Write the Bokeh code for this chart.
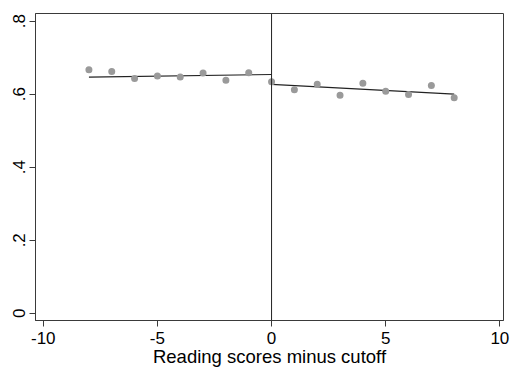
from bokeh.plotting import figure
from bokeh.models import FixedTicker, Range1d, Span
from bokeh.embed import file_html
from bokeh.resources import INLINE

# bin means (reading score minus cutoff)
x_left = [-8, -7, -6, -5, -4, -3, -2, -1]
y_left = [0.667, 0.662, 0.643, 0.650, 0.647, 0.658, 0.638, 0.659]
x_right = [0, 1, 2, 3, 4, 5, 6, 7, 8]
y_right = [0.634, 0.612, 0.627, 0.597, 0.630, 0.608, 0.599, 0.624, 0.590]

# fitted lines
fit_left_x = [-8, 0]
fit_left_y = [0.647, 0.654]
fit_right_x = [0, 8]
fit_right_y = [0.627, 0.600]

x_ticks = [-10, -5, 0, 5, 10]
x_tick_labels = {-10: "-10", -5: "-5", 0: "0", 5: "5", 10: "10"}
y_ticks = [0, 0.2, 0.4, 0.6, 0.8]
y_tick_labels = {0: "0", 0.2: ".2", 0.4: ".4", 0.6: ".6", 0.8: ".8"}

FONT = "Liberation Sans"
AXIS_COLOR = "#3a3a3a"

p = figure(width=510, height=369, output_backend="svg", toolbar_location=None,
           x_range=Range1d(-10.34, 10.16), y_range=Range1d(-0.0197, 0.821),
           min_border_left=35, min_border_right=7, min_border_top=13, min_border_bottom=48)

p.background_fill_color = "white"
p.border_fill_color = "white"
p.outline_line_color = AXIS_COLOR
p.outline_line_width = 1
p.xgrid.visible = False
p.ygrid.visible = False

p.add_layout(Span(location=0, dimension="height", line_color="#222222", line_width=1))

p.line(fit_left_x, fit_left_y, line_color="#222222", line_width=1.2)
p.line(fit_right_x, fit_right_y, line_color="#222222", line_width=1.2)

p.scatter(x_left, y_left, size=7, fill_color="#9a9a9a", line_color=None)
p.scatter(x_right, y_right, size=7, fill_color="#9a9a9a", line_color=None)

for ax in (p.xaxis[0], p.yaxis[0]):
    ax.axis_line_color = AXIS_COLOR
    ax.major_tick_line_color = AXIS_COLOR
    ax.minor_tick_line_color = None
    ax.major_tick_out = 6
    ax.major_tick_in = 0
    ax.major_label_text_font = FONT
    ax.major_label_text_font_size = "17px"
    ax.major_label_text_color = "black"

p.xaxis.ticker = FixedTicker(ticks=x_ticks)
p.xaxis.major_label_overrides = x_tick_labels
p.yaxis.ticker = FixedTicker(ticks=y_ticks)
p.yaxis.major_label_overrides = y_tick_labels
p.yaxis.major_label_orientation = "vertical"
p.xaxis.major_label_standoff = 5
p.yaxis.major_label_standoff = 4

p.xaxis.axis_label = "Reading scores minus cutoff"
p.xaxis.axis_label_text_font = FONT
p.xaxis.axis_label_text_font_size = "18.5px"
p.xaxis.axis_label_text_font_style = "normal"
p.xaxis.axis_label_text_color = "black"
p.xaxis.axis_label_standoff = -1

open("out.html", "w").write(file_html(p, INLINE))
